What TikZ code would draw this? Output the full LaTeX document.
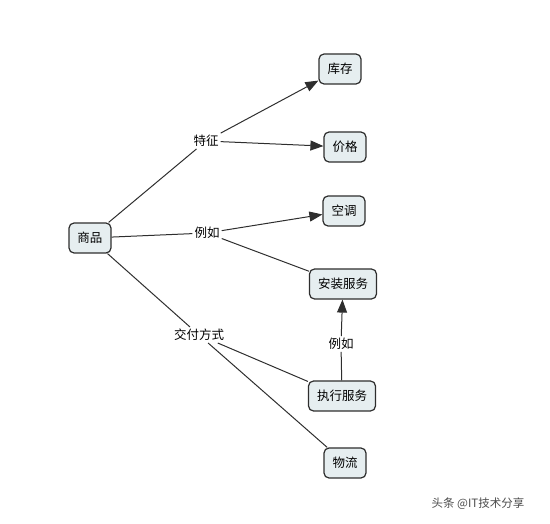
\documentclass[tikz,border=0pt]{standalone}
\usepackage{fontspec}
\setmainfont{Noto Sans CJK SC}
\usetikzlibrary{arrows.meta}
\usetikzlibrary{positioning}
\usepackage{xcolor}
\definecolor{boxfill}{HTML}{E6EEF0}
\definecolor{boxline}{HTML}{2E2E2E}

\begin{document}
\begin{tikzpicture}[
    x=1pt, y=-1pt,
    concept/.style={rectangle,rounded corners=5pt,draw=boxline,fill=boxfill,line width=1.2pt,
      minimum height=30pt,inner xsep=8.5pt,font=\fontsize{12.5}{14}\selectfont},
    link/.style={inner sep=2pt,font=\fontsize{12.5}{14}\selectfont},
    line/.style={draw=boxline,line width=1pt},
    arr/.style={line,-{Triangle[length=13pt,width=10pt]}}
    ]
    \useasboundingbox (0,0) rectangle (550,524);

    \node[concept] (goods) at (90,238) {商品};
    \node[concept] (stock) at (340,69) {库存};
    \node[concept] (price) at (345,147) {价格};
    \node[concept] (aircon) at (344,211) {空调};
    \node[concept] (install) at (343,284) {安装服务};
    \node[concept] (exec) at (342,396) {执行服务};
    \node[concept] (logis) at (345,463) {物流};

    \node[link] (feat) at (206,141) {特征};
    \node[link] (eg1) at (207,233) {例如};
    \node[link] (deliv) at (199,335) {交付方式};
    \node[link] (eg2) at (341,344) {例如};

    \draw[line] (goods) -- (feat);
    \draw[arr] (feat) -- (stock);
    \draw[arr] (feat) -- (price);

    \draw[line] (goods) -- (eg1);
    \draw[arr] (eg1) -- (aircon);
    \draw[line] (eg1) -- (install);

    \draw[line] (goods) -- (deliv);
    \draw[line] (deliv) -- (exec);
    \draw[line] (deliv) -- (logis);

    \draw[line] (exec) -- (eg2);
    \draw[arr] (eg2) -- (install);

    \node[font=\fontsize{11.5}{13}\selectfont,text=black!70] (mark) at (478,504) {头条 @IT技术分享};
  \end{tikzpicture}
\end{document}
